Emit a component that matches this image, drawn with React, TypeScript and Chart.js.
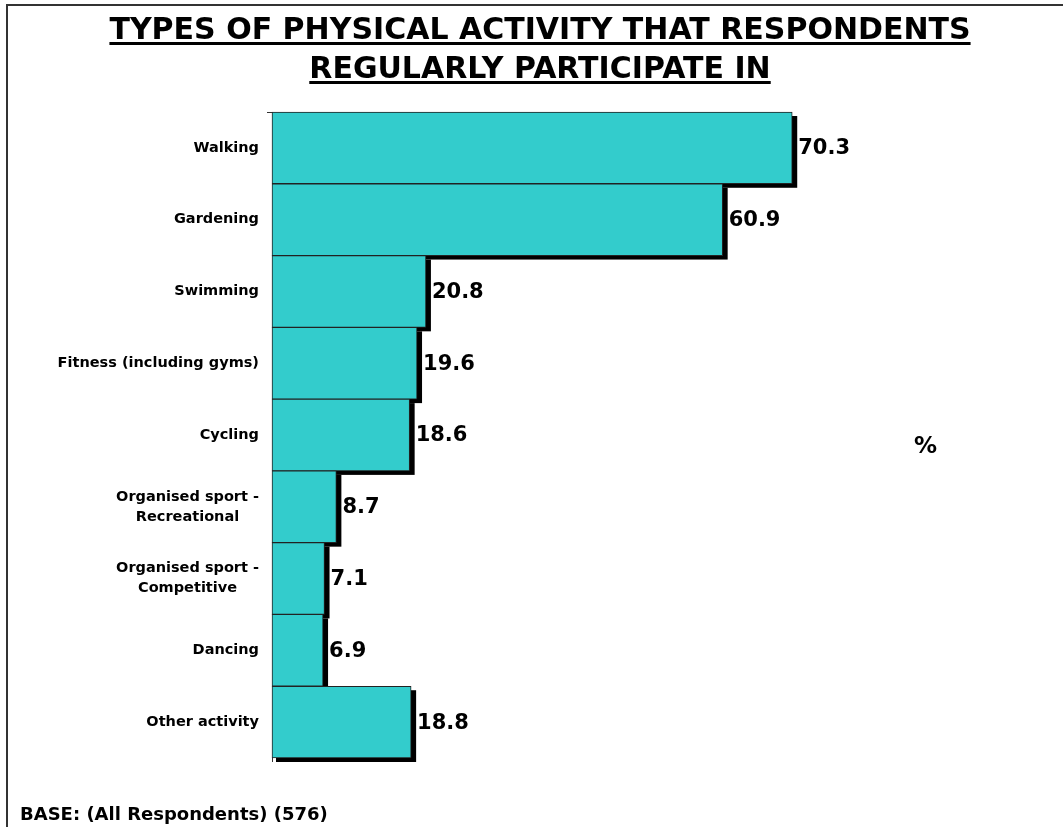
import React, { useEffect, useRef } from "react";
import { Chart, registerables } from "chart.js";

Chart.register(...registerables);

const titleLines: string[] = ["TYPES OF PHYSICAL ACTIVITY THAT RESPONDENTS", "REGULARLY PARTICIPATE IN"];
const categories: string[][] = [
  ["Walking"],
  ["Gardening"],
  ["Swimming"],
  ["Fitness (including gyms)"],
  ["Cycling"],
  ["Organised sport -", "Recreational"],
  ["Organised sport -", "Competitive"],
  ["Dancing"],
  ["Other activity"],
];
const values: number[] = [70.3, 60.9, 20.8, 19.6, 18.6, 8.7, 7.1, 6.9, 18.8];
const valueLabels: string[] = ["70.3", "60.9", "20.8", "19.6", "18.6", "8.7", "7.1", "6.9", "18.8"];
const xMin = 0;
const xMax = 80;
const axisTitle = "%";
const baseNote = "BASE: (All Respondents) (576)";

const FONT = "'DejaVu Sans', Verdana, sans-serif";

const customPlugin = {
  id: "customDraw",
  beforeDatasetsDraw(chart: any) {
    const ctx = chart.ctx;
    const meta = chart.getDatasetMeta(0);
    ctx.save();
    ctx.fillStyle = "#000000";
    meta.data.forEach((el: any) => {
      const left = Math.min(el.base, el.x);
      const right = Math.max(el.base, el.x);
      const top = el.y - el.height / 2;
      ctx.fillRect(left + 4, top + 4, right - left + 1, el.height);
    });
    ctx.restore();
  },
  afterDatasetsDraw(chart: any) {
    const ctx = chart.ctx;
    const meta = chart.getDatasetMeta(0);
    const yScale = chart.scales.y;
    const area = chart.chartArea;
    ctx.save();
    // value labels
    ctx.fillStyle = "#000";
    ctx.font = `bold 21px ${FONT}`;
    ctx.textAlign = "left";
    ctx.textBaseline = "middle";
    meta.data.forEach((el: any, i: number) => {
      ctx.fillText(valueLabels[i], el.x + 6, el.y + 1);
    });
    // category labels
    ctx.font = `bold 14.5px ${FONT}`;
    ctx.textAlign = "center";
    const lh = 20;
    categories.forEach((lines, i) => {
      const y = yScale.getPixelForValue(i);
      let maxW = 0;
      lines.forEach((l) => (maxW = Math.max(maxW, ctx.measureText(l).width)));
      const cx = area.left - 13 - maxW / 2;
      const y0 = y - ((lines.length - 1) * lh) / 2;
      lines.forEach((l, j) => ctx.fillText(l, cx, y0 + j * lh));
    });
    // top tick
    ctx.strokeStyle = "#333";
    ctx.lineWidth = 1;
    ctx.beginPath();
    ctx.moveTo(area.left - 5, Math.round(area.top) + 0.5);
    ctx.lineTo(area.left, Math.round(area.top) + 0.5);
    ctx.stroke();
    // axis extension below the plot
    ctx.beginPath();
    ctx.moveTo(Math.round(area.left) + 0.5, area.bottom);
    ctx.lineTo(Math.round(area.left) + 0.5, area.bottom + 4);
    ctx.stroke();
    ctx.restore();
  },
};

function BarChart() {
  const ref = useRef<HTMLCanvasElement | null>(null);
  useEffect(() => {
    if (!ref.current) return;
    const chart = new Chart(ref.current, {
      type: "bar",
      data: {
        labels: categories.map((c) => c.join(" ")),
        datasets: [
          {
            data: values,
            backgroundColor: "#33CCCC",
            borderColor: "#222222",
            borderWidth: 1,
            borderSkipped: false,
            barPercentage: 1,
            categoryPercentage: 1,
            clip: false as any,
          },
        ],
      },
      options: {
        indexAxis: "y",
        responsive: false,
        animation: false,
        layout: { padding: { left: 0, top: 112, right: 199, bottom: 69 } },
        plugins: { legend: { display: false }, tooltip: { enabled: false }, title: { display: false } },
        scales: {
          x: { display: false, min: xMin, max: xMax },
          y: {
            display: true,
            ticks: { display: false },
            grid: { display: false, drawTicks: false },
            border: { display: true, color: "#333333", width: 1 },
            afterFit: (scale: any) => {
              scale.width = 272;
            },
          },
        },
      },
      plugins: [customPlugin],
    });
    return () => chart.destroy();
  }, []);
  return <canvas ref={ref} width={1063} height={827} style={{ position: "absolute", left: 0, top: 0 }} />;
}

export default function App() {
  return (
    <div style={{ position: "absolute", left: 0, top: 0, width: 1063, height: 827, overflow: "hidden", background: "#fff", fontFamily: FONT }}>
      <div style={{ position: "absolute", left: 6, top: 4, width: 1200, height: 1000, borderLeft: "2px solid #333", borderTop: "2px solid #333" }} />
      <BarChart />
      <div
        style={{
          position: "absolute",
          left: 0,
          top: 9,
          width: 1080,
          textAlign: "center",
          fontWeight: "bold",
          fontSize: 30,
          lineHeight: "39px",
          color: "#000",
        }}
      >
        {titleLines.map((t, i) => (
          <div key={i}>
            <span style={{ textDecoration: "underline", textDecorationThickness: "3px", textUnderlineOffset: "3px" }}>{t}</span>
          </div>
        ))}
      </div>
      <div style={{ position: "absolute", left: 914, top: 432, fontWeight: "bold", fontSize: 23, color: "#000" }}>{axisTitle}</div>
      <div style={{ position: "absolute", left: 20, top: 803, fontWeight: "bold", fontSize: 18, color: "#000", whiteSpace: "nowrap" }}>{baseNote}</div>
    </div>
  );
}
